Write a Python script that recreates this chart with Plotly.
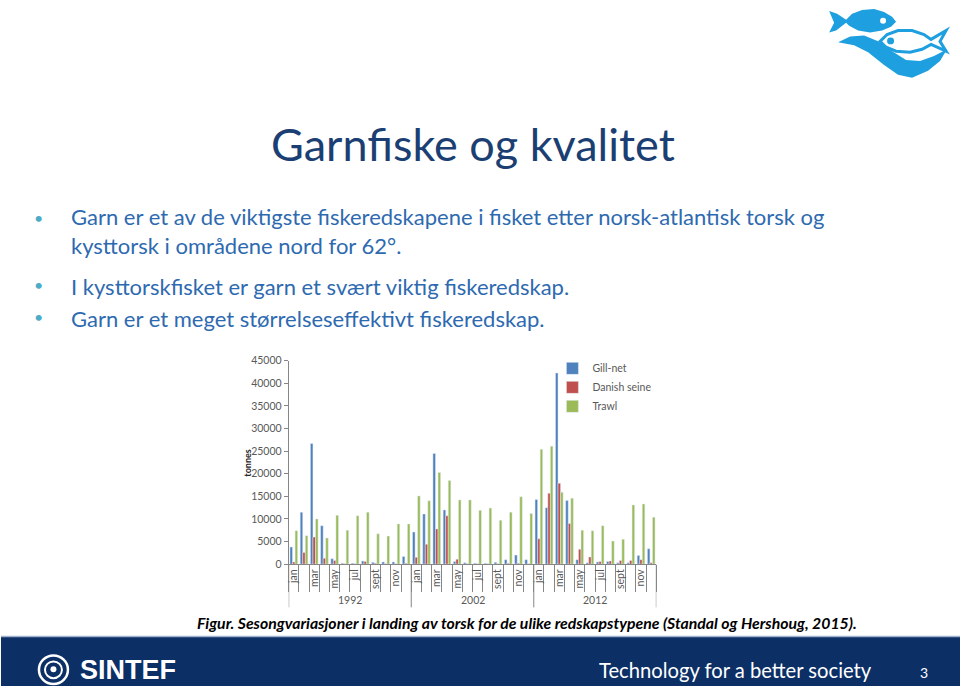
import plotly.graph_objects as go

# ---------------- data ----------------
years = ["1992", "2002", "2012"]
months = ["jan", "feb", "mar", "apr", "may", "jun", "jul", "aug", "sep", "oct", "nov", "dec"]
month_labels = ["jan", "mar", "may", "jul", "sept", "nov"]

gill_1992 = [3800, 11500, 26700, 8500, 1200, 200, 200, 700, 400, 500, 500, 1700]
gill_2002 = [7100, 11100, 24500, 12000, 600, 300, 200, 200, 400, 1000, 2000, 1000]
gill_2012 = [14300, 12500, 42300, 14100, 1000, 300, 500, 600, 300, 300, 1900, 3400]

danish_1992 = [500, 2600, 6000, 1300, 800, 100, 100, 600, 200, 100, 100, 200]
danish_2002 = [1500, 4400, 7800, 10700, 1100, 100, 100, 100, 100, 200, 200, 100]
danish_2012 = [5600, 15700, 17900, 9000, 3300, 1600, 600, 700, 800, 800, 1000, 300]

trawl_1992 = [7400, 6300, 10000, 5800, 10800, 7500, 10700, 11500, 6700, 6200, 8900, 8900]
trawl_2002 = [15100, 14000, 20300, 18500, 14200, 14200, 11900, 12400, 9700, 11500, 14900, 11200]
trawl_2012 = [25400, 26100, 15900, 14600, 7500, 7400, 8500, 5100, 5500, 13100, 13300, 10400]

gill = gill_1992 + gill_2002 + gill_2012
danish = danish_1992 + danish_2002 + danish_2012
trawl = trawl_1992 + trawl_2002 + trawl_2012

W, H = 960, 692
n = len(gill)
xs = list(range(n))
nm = len(months)


def px(x):
    return x / W


def py(y):
    return 1 - y / H


fig = go.Figure()
fig.add_trace(go.Bar(x=xs, y=gill, name="Gill-net", marker_color="#4F81BD"))
fig.add_trace(go.Bar(x=xs, y=danish, name="Danish seine", marker_color="#C0504D"))
fig.add_trace(go.Bar(x=xs, y=trawl, name="Trawl", marker_color="#9BBB59"))

axis_grey = "#868686"
label_grey = "#595959"

tickvals = [i for i in xs if i % 2 == 0]
ticktext = [month_labels[(i % nm) // 2] for i in tickvals]

fig.update_layout(
    width=W, height=H, autosize=False,
    margin=dict(l=0, r=0, t=0, b=0),
    paper_bgcolor="white", plot_bgcolor="white",
    barmode="group", bargap=0.25, bargroupgap=0,
    font=dict(family="Lato, Carlito, sans-serif"),
    xaxis=dict(
        domain=[px(288), px(656)], range=[-0.5, n - 0.5],
        showline=True, linecolor=axis_grey, linewidth=1,
        showgrid=False, zeroline=False,
        tickmode="array", tickvals=tickvals, ticktext=ticktext,
        tickangle=-90, ticks="", tickfont=dict(size=10.5, color=label_grey, family="Lato"),
        minor=dict(ticks="outside", ticklen=27, tickcolor=axis_grey, tickmode="linear",
                   tick0=-0.5, dtick=1, showgrid=False),
    ),
    yaxis=dict(
        domain=[py(568), py(361)], range=[0, 45000], dtick=5000, tickformat="d",
        showline=True, linecolor=axis_grey, linewidth=1,
        showgrid=False, zeroline=False,
        ticks="outside", ticklen=4, tickcolor=axis_grey,
        tickfont=dict(size=10.5, color=label_grey, family="Lato"),
    ),
    legend=dict(x=px(552), y=py(354), xanchor="left", yanchor="top",
                font=dict(size=10.5, color=label_grey), bgcolor="rgba(0,0,0,0)",
                tracegroupgap=0),
)

shapes = []
annotations = []

# year separators and year labels
for k, yr in enumerate(years):
    b = k * nm - 0.5
    shapes.append(dict(type="line", xref="x", yref="paper", x0=b, x1=b,
                       y0=py(568), y1=py(612), line=dict(color=axis_grey, width=1)))
    annotations.append(dict(text=yr, xref="x", yref="paper", x=k * nm + (nm - 1) / 2, y=py(604),
                            showarrow=False, font=dict(size=10.5, color=label_grey),
                            xanchor="center", yanchor="middle"))
shapes.append(dict(type="line", xref="x", yref="paper", x0=n - 0.5, x1=n - 0.5,
                   y0=py(568), y1=py(612), line=dict(color=axis_grey, width=1)))

# y axis title
annotations.append(dict(text="<b>tonnes</b>", xref="paper", yref="paper", x=px(247), y=py(465),
                        textangle=-90, showarrow=False, font=dict(size=9, color="#262626"),
                        xanchor="center", yanchor="middle"))

# slide title
annotations.append(dict(text="Garnfiske og kvalitet", xref="paper", yref="paper",
                        x=px(472), y=py(140), showarrow=False,
                        font=dict(size=45, color="#1B3F73", family="Lato"),
                        xanchor="center", yanchor="middle"))

# bullets
text_color = "#2E6AB0"
bullets = [
    (229, 217, "Garn er et av de viktigste fiskeredskapene i fisket etter norsk-atlantisk torsk og"
               "<br>kysttorsk i områdene nord for 62°."),
    (285, 285, "I kysttorskfisket er garn et svært viktig fiskeredskap."),
    (318, 318, "Garn er et meget størrelseseffektivt fiskeredskap."),
]
for y, yb, t in bullets:
    annotations.append(dict(text="•", xref="paper", yref="paper", x=px(38), y=py(yb - 2),
                            showarrow=False, font=dict(size=16, color="#4BACC6"),
                            xanchor="center", yanchor="middle"))
    annotations.append(dict(text=t, xref="paper", yref="paper", x=px(68), y=py(y),
                            showarrow=False, align="left",
                            font=dict(size=22, color=text_color, family="Lato"),
                            xanchor="left", yanchor="middle"))

# caption
annotations.append(dict(
    text="<b><i>Figur. Sesongvariasjoner i landing av torsk for de ulike redskapstypene (Standal og Hershoug, 2015).</i></b>",
    xref="paper", yref="paper", x=px(194), y=py(627), showarrow=False,
    font=dict(size=15.8, color="black", family="Lato"), xanchor="left", yanchor="middle"))

# footer band
shapes.append(dict(type="rect", xref="paper", yref="paper", x0=0, x1=1, y0=0, y1=py(642),
                   fillcolor="#0C2F66", line=dict(width=0), layer="below"))
shapes.append(dict(type="line", xref="paper", yref="paper", x0=0, x1=1, y0=py(641.5), y1=py(641.5),
                   line=dict(color="#9FB3CC", width=1.5)))
annotations.append(dict(text="Technology for a better society", xref="paper", yref="paper",
                        x=px(597), y=py(676), showarrow=False,
                        font=dict(size=20.2, color="white", family="Lato"),
                        xanchor="left", yanchor="middle"))
annotations.append(dict(text="3", xref="paper", yref="paper", x=px(924), y=py(678), showarrow=False,
                        font=dict(size=14, color="white", family="Lato"),
                        xanchor="center", yanchor="middle"))
# SINTEF logo
shapes.append(dict(type="circle", xref="paper", yref="paper", x0=px(38), x1=px(67), y0=py(690), y1=py(661),
                   line=dict(color="white", width=2.5), fillcolor="rgba(0,0,0,0)"))
shapes.append(dict(type="circle", xref="paper", yref="paper", x0=px(44), x1=px(61), y0=py(684), y1=py(667),
                   line=dict(color="white", width=2), fillcolor="rgba(0,0,0,0)"))
shapes.append(dict(type="circle", xref="paper", yref="paper", x0=px(49.5), x1=px(55.5), y0=py(678), y1=py(672),
                   line=dict(width=0), fillcolor="white"))
annotations.append(dict(text="<b>SINTEF</b>", xref="paper", yref="paper", x=px(77), y=py(676),
                        showarrow=False, font=dict(size=27, color="white", family="Liberation Sans"),
                        xanchor="left", yanchor="middle"))


# fish logo (top right)
def path(pts, close=True):
    s = "M " + " L ".join(f"{px(x):.5f},{py(y):.5f}" for x, y in pts)
    return s + (" Z" if close else "")


fish_blue = "#1E9FDF"
fish1 = [(846, 14), (852, 8), (862, 4), (874, 3), (884, 6), (892, 11), (896, 16), (891, 21),
         (882, 25), (870, 27), (858, 25), (849, 20), (846, 17), (836, 25), (829, 27), (834, 17),
         (829, 5), (837, 8)]
shapes.append(dict(type="path", xref="paper", yref="paper", path=path(fish1),
                   fillcolor=fish_blue, line=dict(width=0)))
shapes.append(dict(type="circle", xref="paper", yref="paper", x0=px(880), x1=px(886), y0=py(18), y1=py(12),
                   fillcolor="white", line=dict(width=0)))
wave = [(838, 37), (850, 31), (864, 30), (878, 36), (892, 46), (906, 55), (920, 56), (934, 51), (947, 44),
        (940, 56), (928, 66), (912, 73), (898, 70), (884, 60), (868, 47), (854, 40)]
shapes.append(dict(type="path", xref="paper", yref="paper", path=path(wave),
                   fillcolor=fish_blue, line=dict(width=0)))
fish2 = [(880, 36), (887, 29), (898, 25), (912, 25), (924, 29), (931, 34), (946, 25), (940, 36),
         (946, 46), (931, 39), (922, 44), (910, 47), (896, 46), (886, 42)]
shapes.append(dict(type="path", xref="paper", yref="paper", path=path(fish2),
                   fillcolor="white", line=dict(color=fish_blue, width=3)))
shapes.append(dict(type="circle", xref="paper", yref="paper", x0=px(887), x1=px(894), y0=py(39), y1=py(32),
                   fillcolor=fish_blue, line=dict(width=0)))

fig.update_layout(shapes=shapes, annotations=annotations)
fig.write_html("out.html")
